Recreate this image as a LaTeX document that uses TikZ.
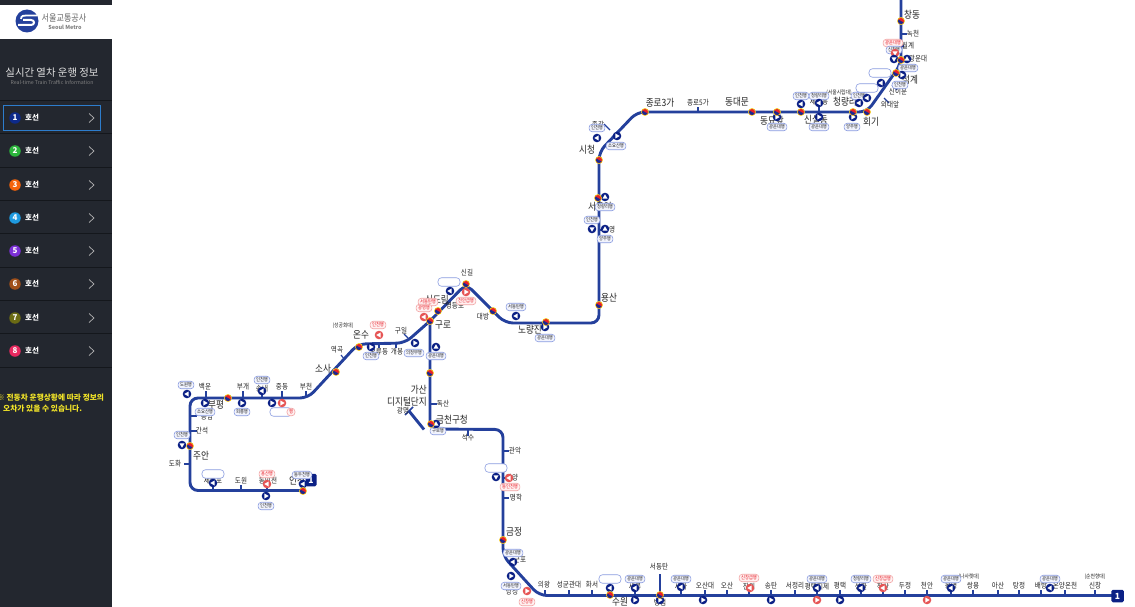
\documentclass[tikz,border=0pt]{standalone}
\usepackage{fontspec}
\setmainfont{Noto Sans CJK KR}
\newfontfamily\krn[FakeStretch=0.86]{Noto Sans CJK KR}
\usetikzlibrary{calc}
\definecolor{side}{HTML}{23272F}
\definecolor{sep}{HTML}{14171C}
\definecolor{rail}{HTML}{24409C}
\definecolor{navy}{HTML}{0B2085}
\definecolor{redt}{HTML}{E65555}
\definecolor{labelc}{HTML}{262626}
\definecolor{pillb}{HTML}{8A9CE0}
\definecolor{pillf}{HTML}{F1F3FD}
\definecolor{pillr}{HTML}{F2A5A5}
\definecolor{pillrf}{HTML}{FFF1F1}
\definecolor{ringo}{HTML}{F2C81E}
\definecolor{yinr}{HTML}{E8202A}
\definecolor{yinb}{HTML}{1A2A90}
\definecolor{lnb}{HTML}{0D2A8A}
\definecolor{lng}{HTML}{2CB53C}
\definecolor{lno}{HTML}{F5640A}
\definecolor{lnc}{HTML}{1E9AE0}
\definecolor{lnv}{HTML}{7B2FD6}
\definecolor{lnbr}{HTML}{A0501A}
\definecolor{lnol}{HTML}{6B6B14}
\definecolor{lnp}{HTML}{E8285F}
\definecolor{chev}{HTML}{B5B5B5}
\definecolor{warn}{HTML}{F2E428}
\definecolor{selbox}{HTML}{2D7DCD}
\newcounter{nn}
\newcommand{\nid}{n\arabic{nn}}
\newcommand{\nnode}{\stepcounter{nn}\node}
\tikzset{
  railline/.style={draw=rail,line width=2.9pt,rounded corners=8pt},
  tickline/.style={draw=rail,line width=1.1pt},
  smalllab/.style={text=labelc,inner sep=0pt,font=\krn\fontsize{7.6}{9}\selectfont},
  biglab/.style={text=labelc,inner sep=0pt,font=\krn\fontsize{10}{11.5}\selectfont,align=right},
  tinylab/.style={text=labelc,inner sep=0pt,font=\krn\fontsize{5.6}{7}\selectfont},
  bluepill/.style={draw=pillb,fill=pillf,line width=.6pt,rounded corners=3.2pt,inner xsep=2pt,inner ysep=0pt,minimum height=7.5pt,text=labelc,font=\krn\fontsize{5}{6}\selectfont},
  redpill/.style={draw=pillr,fill=pillrf,line width=.6pt,rounded corners=3.2pt,inner xsep=2pt,inner ysep=0pt,minimum height=7.5pt,text=yinr,font=\krn\fontsize{5}{6}\selectfont},
  blankpill/.style={draw=pillb,fill=white,line width=.6pt,rounded corners=3.5pt,minimum width=22pt,minimum height=8.5pt,inner sep=0pt},
  ringdot/.style={circle,inner sep=0pt,minimum size=7.8pt,fill=ringo},
  traindisc/.style={circle,inner sep=0pt,minimum size=8.6pt},
  menutext/.style={text=white,inner sep=0pt,font=\fontsize{7.5}{9}\selectfont\bfseries},
  cutblue/.style={draw=pillb,fill=pillf,line width=.6pt,minimum width=18pt,minimum height=4pt,inner sep=0pt},
  cutred/.style={draw=pillr,fill=pillrf,line width=.6pt,minimum width=18pt,minimum height=4pt,inner sep=0pt},
}
\newcommand{\xf}[2]{\nnode[ringdot] (\nid) at (#1,#2) {};
  \fill[yinr] (#1,#2) circle (3pt);
  \fill[yinb,shift={(#1,#2)},rotate=-30] (-3pt,0pt) arc (180:360:3pt) -- cycle;}
\newcommand{\tr}[4]{\nnode[traindisc,fill=#4] (\nid) at (#1,#2) {};
  \fill[white,shift={(#1,#2)},rotate=#3] (2.7pt,0pt) -- (-1.6pt,2.5pt) -- (-1.6pt,-2.5pt) -- cycle;}
\newcommand{\sml}[3]{\nnode[smalllab] (\nid) at (#1,#2) {#3};}
\newcommand{\bgl}[3]{\nnode[biglab] (\nid) at (#1,#2) {#3};}
\newcommand{\tnl}[3]{\nnode[tinylab] (\nid) at (#1,#2) {#3};}
\newcommand{\pbl}[3]{\nnode[bluepill] (\nid) at (#1,#2) {#3};}
\newcommand{\prd}[3]{\nnode[redpill] (\nid) at (#1,#2) {#3};}
\newcommand{\pk}[2]{\nnode[blankpill] (\nid) at (#1,#2) {};}
\newcommand{\tk}[4]{\draw[tickline] (#1,#2) -- (#3,#4);}
\newcommand{\menu}[3]{%
  \nnode[circle,fill=#3,inner sep=0pt,minimum size=11.5pt,text=white,font=\fontsize{8}{9}\selectfont\bfseries] (\nid) at (15,#1) {#2};
  \nnode[menutext] (\nid) at (32,#1) {호선};
  \draw[chev,line width=.7pt] (89,#1-4.5) -- (94,#1) -- (89,#1+4.5);}
\begin{document}
\begin{tikzpicture}[x=1pt,y=-1pt]
\useasboundingbox (0,0) rectangle (1135,607);
\fill[white] (0,0) rectangle (1135,607);
% ---------- map lines
\coordinate (inch) at (304,490.5);
\coordinate (loopa) at (190,490.5);
\coordinate (loopb) at (190,398);
\coordinate (buch) at (308,398);
\coordinate (oryu) at (358,344);
\coordinate (guil) at (405,343);
\coordinate (guro) at (430,321);
\coordinate (sing) at (466,284);
\coordinate (daeb) at (505,323);
\coordinate (yong) at (599,323);
\coordinate (cityh) at (599,152);
\coordinate (jong) at (637,112);
\coordinate (hoegi) at (867,112);
\coordinate (seok) at (901,64);
\coordinate (topn) at (901,-2);
\coordinate (gbot) at (430,429);
\coordinate (gstub) at (409,411);
\coordinate (gcor) at (424,429.5);
\coordinate (gtop) at (503,429.5);
\coordinate (gcen) at (503,556);
\coordinate (gend) at (539,595.5);
\coordinate (endb) at (1112,595.5);
\coordinate (byeong) at (660,595);
\coordinate (sdt) at (660,574);
\draw[railline] (inch) -- (loopa) -- (loopb) -- (buch) -- (oryu) -- (guil) -- (guro) -- (sing) -- (daeb) -- (yong) -- (cityh) -- (jong) -- (hoegi) -- (seok) -- (topn);
\draw[railline] (guro) -- (gbot) -- (gtop) -- (gcen) -- (gend) -- (endb);
\draw[draw=rail,line width=2.9pt] (gstub) -- (gcor);
\draw[draw=rail,line width=1.6pt] ($(gstub)+(-4,4)$) -- ($(gstub)+(4,-4)$);
\draw[draw=rail,line width=2pt] (byeong) -- (sdt);
% ticks
\tk{213}{491}{213}{484}\tk{241}{491}{241}{485}\tk{267}{491}{267}{485}\tk{184}{464}{190}{464}\tk{190}{431}{197}{431}\tk{190}{416}{197}{416}
\tk{206}{398}{206}{391}\tk{243}{398}{243}{391}\tk{262}{398}{262}{391}\tk{282}{398}{282}{391}\tk{306}{398}{306}{391}
\tk{345}{360}{341}{355}\tk{379}{344}{379}{348}\tk{396}{344}{396}{348}\tk{408}{338}{404}{334}\tk{430}{404}{437}{404}\tk{468}{430}{468}{436}
\tk{503}{451}{509}{451}\tk{503}{498}{509}{498}\tk{503}{478}{507}{478}\tk{545}{595}{545}{590}\tk{569}{595}{569}{590}\tk{592}{595}{592}{590}\tk{635}{595}{635}{590}
\tk{681}{595}{681}{590}\tk{705}{595}{705}{590}\tk{727}{595}{727}{590}\tk{749}{595}{749}{590}\tk{771}{595}{771}{590}\tk{795}{595}{795}{590}\tk{817}{595}{817}{590}\tk{840}{595}{840}{590}\tk{861}{595}{861}{590}\tk{883}{595}{883}{590}\tk{905}{595}{905}{590}\tk{927}{595}{927}{590}\tk{951}{595}{951}{590}\tk{973}{595}{973}{590}\tk{998}{595}{998}{590}\tk{1019}{595}{1019}{590}\tk{1041}{595}{1041}{590}\tk{1065}{595}{1065}{590}\tk{1095}{595}{1095}{590}
\tk{698}{112}{698}{107}\tk{819}{112}{819}{105}\tk{610}{130}{604}{124}\tk{599}{230}{606}{230}\tk{884}{98}{889}{103}\tk{892}{85}{897}{90}\tk{901}{34}{907}{34}\tk{901}{46}{904}{46}
% terminals
\nnode[fill=navy,rounded corners=1.5pt,minimum width=12.5pt,minimum height=12.5pt,inner sep=0pt,text=white,font=\fontsize{8.5}{9}\selectfont\bfseries] (\nid) at (1117.5,596) {1};
\nnode[fill=navy,rounded corners=1.5pt,minimum width=11pt,minimum height=12.5pt,inner sep=0pt,text=white,font=\fontsize{8.5}{9}\selectfont\bfseries] (\nid) at (311,480) {1};
% ---------- labels
\sml{213}{481}{제물포}\sml{241}{481}{도원}\sml{268}{481}{동인천}\bgl{297}{481}{인천}
\sml{175}{464}{도화}\bgl{201}{456}{주안}\sml{202}{431}{간석}\sml{207}{417}{동암}\bgl{216}{405}{부평}
\sml{205}{387}{백운}\sml{243}{387}{부개}\sml{262}{389}{송내}\sml{282}{387}{중동}\sml{306}{387}{부천}
\bgl{323}{369}{소사}\sml{337}{350}{역곡}\bgl{361}{335}{온수}\tnl{343}{326}{(성공회대)}
\sml{379}{352}{오류동}\sml{397}{352}{개봉}\sml{401}{331}{구일}\bgl{443}{325}{구로}
\bgl{437}{300}{신도림}\sml{455}{306}{영등포}\sml{467}{273}{신길}\sml{483}{317}{대방}
\bgl{530}{330}{노량진}\bgl{609}{298}{용산}\sml{609}{230}{남영}\bgl{600}{207}{서울역}
\bgl{587}{150}{시청}\sml{598}{125}{종각}\bgl{660}{103}{종로3가}\sml{698}{103}{종로5가}\bgl{737}{102}{동대문}
\bgl{772}{121}{동묘앞}\bgl{816}{120}{신설동}\sml{819}{102}{제기동}\bgl{845}{102}{청량리}\tnl{839}{93}{(서울시립대)}\bgl{871}{122}{회기}
\sml{890}{105}{외대앞}\sml{898}{92}{신이문}\bgl{910}{80}{석계}\sml{918}{59}{광운대}\sml{908}{46}{월계}\sml{913}{34}{녹천}\bgl{912}{15}{창동}\sml{889}{-4}{방학}
\nnode[biglab] (\nid) at (407,396) {가산\\디지털단지};
\bgl{452}{420}{금천구청}\sml{403}{411}{광명}\sml{443}{404}{독산}\sml{468}{438}{석수}
\sml{515}{451}{관악}\sml{512}{478}{안양}\sml{516}{498}{명학}\bgl{514}{532}{금정}\sml{520}{560}{군포}\sml{512}{592}{당정}
\sml{544}{585}{의왕}\sml{569}{585}{성균관대}\sml{592}{585}{화서}\bgl{620}{602}{수원}\sml{635}{587}{세류}\sml{660}{603}{병점}\sml{659}{567}{서동탄}
\sml{681}{587}{세마}\sml{705}{586}{오산대}\sml{727}{586}{오산}\sml{749}{587}{진위}\sml{771}{586}{송탄}\sml{795}{586}{서정리}\sml{817}{587}{평택지제}\sml{840}{586}{평택}
\sml{861}{587}{성환}\sml{883}{587}{직산}\sml{905}{586}{두정}\sml{927}{586}{천안}\sml{951}{586}{봉명}\sml{973}{586}{쌍용}\tnl{969}{577}{(나사렛대)}\sml{998}{586}{아산}
\sml{1019}{586}{탕정}\sml{1041}{586}{배방}\sml{1065}{586}{온양온천}\sml{1095}{586}{신창}\tnl{1095}{577}{(순천향대)}
% ---------- pills
\pbl{302}{475}{동두천행}\pk{213}{474}\prd{267}{474}{용산행}\pbl{266}{506}{인천행}
\pbl{182}{435}{인천행}\pbl{205}{412}{소요산행}\pbl{186}{385}{도원행}\pbl{242}{412}{회룡행}\pbl{262}{380}{인천행}\pk{281}{412}\prd{291}{412}{행}
\prd{378}{325}{인천행}\pbl{371}{356}{인천행}\pbl{414}{353}{의정부행}\pbl{436}{356}{광운대행}
\prd{428}{302}{서동탄행}\prd{424}{308}{광명행}\pk{449}{282}\prd{466}{301}{천안급행}
\pbl{516}{307}{서동탄행}\pbl{545}{338}{광운대행}\pbl{605}{239}{양주행}\pbl{592}{220}{인천행}\pbl{605}{207}{청량리행}
\pbl{597}{128}{인천행}\pbl{616}{146}{소요산행}\pbl{777}{127}{광운대행}\pbl{801}{96}{인천행}\pbl{819}{96}{청량리행}\pbl{819}{127}{광운대행}\pbl{859}{96}{인천행}\pbl{852}{127}{양주행}
\pk{867}{88}\pk{880}{73}\pbl{908}{68}{광운대행}\pbl{900}{85}{인천행}\prd{893}{43}{광운대행}\pbl{894}{50}{신창행}
\pbl{438}{431}{구로행}\pk{496}{468}\prd{510}{487}{동인천행}\pbl{513}{553}{광운대행}\pbl{511}{586}{서동탄행}\prd{527}{602}{신창행}
\pk{610}{579}\pbl{635}{579}{광운대행}\pbl{681}{579}{광운대행}\prd{749}{578}{신창급행}\pbl{817}{579}{광운대행}\pbl{861}{579}{청량리행}\prd{883}{579}{신창급행}\pbl{951}{579}{광운대행}\pbl{1050}{579}{광운대행}
\nnode[cutblue] (\nid) at (635,609) {};
\nnode[cutblue] (\nid) at (703,609) {};
\nnode[cutblue] (\nid) at (771,609) {};
\nnode[cutblue] (\nid) at (840,609) {};
\nnode[cutred] (\nid) at (817,609) {};
\nnode[cutred] (\nid) at (927,609) {};
\nnode[cutblue] (\nid) at (660,609) {};
% ---------- trains
\tr{303}{484}{180}{navy}\tr{213}{483}{180}{navy}\tr{267}{484}{180}{redt}\tr{266}{496}{0}{navy}\tr{182}{445}{270}{navy}\tr{205}{403}{0}{navy}\tr{187}{394}{180}{navy}\tr{242}{403}{0}{navy}\tr{262}{391}{180}{navy}\tr{272}{403}{0}{navy}\tr{282}{403}{0}{redt}
\tr{379}{335}{180}{redt}\tr{371}{347}{0}{navy}\tr{415}{343}{0}{navy}\tr{436}{347}{90}{navy}\tr{424}{317}{180}{redt}\tr{450}{291}{180}{navy}\tr{466}{292}{0}{redt}
\tr{516}{316}{180}{navy}\tr{545}{327}{0}{navy}\tr{605}{229}{90}{navy}\tr{592}{229}{270}{navy}\tr{605}{197}{90}{navy}\tr{597}{138}{180}{navy}\tr{617}{136}{0}{navy}
\tr{777}{117}{0}{navy}\tr{801}{104}{180}{navy}\tr{819}{103}{180}{navy}\tr{819}{117}{0}{navy}\tr{859}{103}{180}{navy}\tr{853}{117}{0}{navy}\tr{867}{98}{180}{navy}\tr{881}{83}{180}{navy}\tr{902}{75}{0}{navy}\tr{895}{53}{270}{redt}\tr{894}{59}{270}{navy}\tr{907}{59}{90}{navy}
\tr{436}{424}{90}{navy}\tr{496}{477}{270}{navy}\tr{509}{478}{180}{redt}\tr{513}{562}{180}{navy}\tr{511}{576}{0}{navy}\tr{527}{591}{0}{redt}
\tr{610}{588}{180}{navy}\tr{635}{600}{0}{navy}\tr{635}{588}{180}{navy}\tr{660}{600}{0}{navy}\tr{681}{587}{180}{navy}\tr{703}{600}{0}{navy}\tr{750}{588}{180}{redt}\tr{771}{600}{0}{navy}\tr{817}{588}{180}{navy}\tr{817}{600}{0}{redt}\tr{840}{600}{0}{navy}\tr{861}{588}{180}{navy}\tr{883}{588}{180}{redt}\tr{927}{600}{0}{redt}\tr{951}{588}{180}{navy}\tr{1050}{588}{180}{navy}
% ---------- transfer dots
\xf{303}{491}\xf{190}{446}\xf{228}{398}\xf{336}{372}\xf{359}{347}\xf{430}{321}\xf{438}{311}\xf{466}{284}\xf{493}{311}\xf{546}{322}\xf{599}{305}\xf{598}{198}\xf{599}{160}\xf{645}{112}\xf{752}{112}\xf{777}{112}\xf{801}{112}\xf{853}{112}\xf{867}{112}\xf{896}{73}\xf{901}{60}\xf{901}{21}\xf{430}{373}\xf{431}{424}\xf{503}{540}\xf{610}{595}\xf{660}{595}
% ---------- sidebar
\fill[side] (0,0) rectangle (112,607);
\fill[white] (0,5) rectangle (112,39);
\node[circle,fill=rail,minimum size=23pt,inner sep=0pt] (logo) at (27,21) {};
\draw[white,line width=2pt] (18,25) -- (31,25) .. controls (35,25) and (35,20) .. (31,20) -- (23,20);
\draw[white,line width=1.8pt] (21,19) .. controls (21,15.5) and (24,15.5) .. (26,15.5) -- (37,15.5);
\nnode[text=labelc!70!white,inner sep=0pt,font=\krn\fontsize{9.4}{10}\selectfont] (\nid) at (64,18) {서울교통공사};
\nnode[text=gray,inner sep=0pt,font=\fontsize{5.5}{7}\selectfont\bfseries] (\nid) at (65,27) {Seoul Metro};
\nnode[text=white!88!black,inner sep=0pt,font=\fontsize{10.4}{12}\selectfont] (\nid) at (52,73) {실시간 열차 운행 정보};
\nnode[text=white!50!black,inner sep=0pt,font=\fontsize{5.2}{6}\selectfont] (\nid) at (52,82) {Real-time Train Traffic Information};
\foreach \yy in {100,133.5,167,200,233.5,267,300,333.5,367}{\draw[sep,line width=.8pt] (0,\yy) -- (112,\yy);}
\draw[selbox,line width=1pt] (3.5,105.5) rectangle (100.5,130.5);
\menu{118}{1}{lnb}
\menu{151}{2}{lng}
\menu{185}{3}{lno}
\menu{218}{4}{lnc}
\menu{251}{5}{lnv}
\menu{284}{6}{lnbr}
\menu{318}{7}{lnol}
\menu{351}{8}{lnp}
\nnode[text=warn,inner sep=0pt,anchor=west,font=\fontsize{7.7}{9}\selectfont\bfseries] (\nid) at (-3,398) {※ 전동차 운행상황에 따라 정보의};
\nnode[text=warn,inner sep=0pt,anchor=west,font=\fontsize{7.7}{9}\selectfont\bfseries] (\nid) at (3,409) {오차가 있을 수 있습니다.};
\end{tikzpicture}
\end{document}
